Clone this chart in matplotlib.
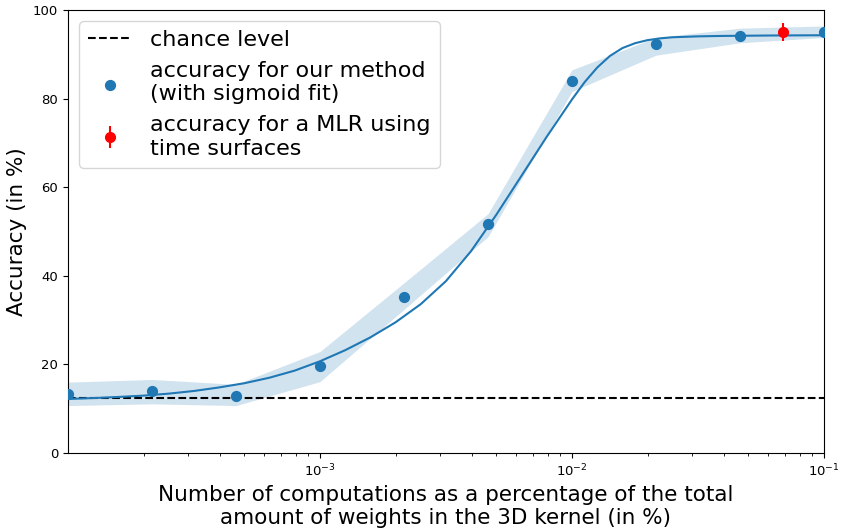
import numpy as np
import matplotlib
matplotlib.use("Agg")
import matplotlib.pyplot as plt

# ---- DATA ----
# fraction of kernel weights used (in %), one entry per run
frac = [1.0e-4, 2.154e-4, 4.642e-4, 1.0e-3, 2.154e-3,
        4.642e-3, 1.0e-2, 2.154e-2, 4.642e-2, 1.0e-1]
acc_mean = [13.3, 13.9, 12.9, 19.6, 35.3, 51.6, 83.9, 92.3, 94.2, 95.1]
acc_low = [10.7, 11.1, 10.7, 16.1, 32.4, 48.8, 81.6, 89.8, 92.6, 93.8]
acc_high = [16.0, 16.6, 15.5, 22.9, 38.4, 54.0, 86.5, 93.8, 95.9, 96.4]

# sigmoid fit through the runs (log10 of fraction, accuracy)
fit_logx = [-4.0, -3.9, -3.8, -3.7, -3.6, -3.5, -3.4, -3.3, -3.2, -3.1,
            -3.0, -2.9, -2.8, -2.7, -2.6, -2.5, -2.4, -2.3, -2.2, -2.1,
            -2.0, -1.95, -1.9, -1.85, -1.8, -1.75, -1.7, -1.65, -1.6,
            -1.5, -1.4, -1.2, -1.0]
fit_acc = [12.2, 12.4, 12.65, 12.95, 13.4, 14.0, 14.8, 15.75, 17.0, 18.6,
           20.7, 23.2, 26.1, 29.5, 33.6, 38.8, 45.6, 53.8, 62.6, 71.4,
           79.8, 83.7, 87.0, 89.6, 91.4, 92.5, 93.2, 93.6, 93.85,
           94.05, 94.15, 94.25, 94.3]

chance = 12.5

# time surface MLR baseline
mlr_frac = 0.0685
mlr_acc = 95.1
mlr_err = 2.0

blue = "#1f77b4"

# ---- PLOT ----
fig = plt.figure(figsize=(8.43, 5.30), dpi=100)
ax = fig.add_axes([68 / 843, 77 / 530, 756 / 843, 443 / 530])

ax.axhline(chance, color="black", linestyle="--", linewidth=1.5, label="chance level")
ax.fill_between(frac, acc_low, acc_high, color=blue, alpha=0.2, linewidth=0)
ax.plot(10 ** np.array(fit_logx), fit_acc, color=blue, linewidth=1.5)
ax.scatter(frac, acc_mean, s=50, color=blue, zorder=3,
           label="accuracy for our method\n(with sigmoid fit)")
ax.errorbar([mlr_frac], [mlr_acc], yerr=[mlr_err], fmt="o", color="red",
            markersize=7, elinewidth=1.5, zorder=4,
            label="accuracy for a MLR using\ntime surfaces")

ax.set_xscale("log")
ax.set_xlim(1.001e-4, 1e-1)
ax.set_ylim(0, 100)
ax.set_yticks([0, 20, 40, 60, 80, 100])
ax.tick_params(labelsize=9.5)

ax.set_xlabel("Number of computations as a percentage of the total\n"
              "amount of weights in the 3D kernel (in %)", fontsize=15.5)
ax.set_ylabel("Accuracy (in %)", fontsize=15.5)

ax.legend(loc="upper left", fontsize=16, handlelength=2.0)

plt.savefig("out.png", dpi=100)
